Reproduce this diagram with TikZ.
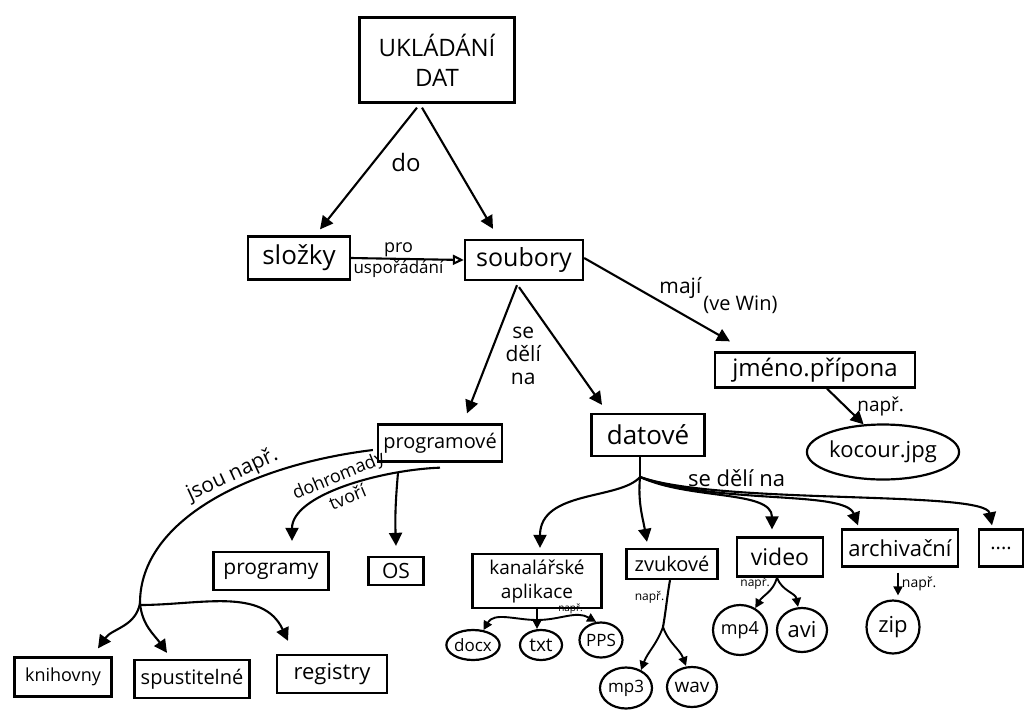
\documentclass[tikz,border=0pt]{standalone}
\usepackage{fontspec}
\setmainfont{Open Sans}
\usetikzlibrary{arrows.meta,shapes.geometric}
\newcommand\fsz[1]{\fontsize{#1}{#1}\selectfont}
\begin{document}
\begin{tikzpicture}[x=1pt,y=1pt,
  box/.style={draw, line width=2.3pt, rectangle, inner sep=0pt, align=center},
  oval/.style={draw, line width=2.2pt, ellipse, inner sep=0pt, align=center},
  arr/.style={line width=2.1pt, -{Triangle[length=13pt,width=13pt]}},
  sarr/.style={line width=1.9pt, -{Triangle[length=9pt,width=9pt]}},
  oarr/.style={line width=2.1pt, -{Triangle[open,length=11pt,width=10pt]}},
  plain/.style={line width=2.1pt},
  lbl/.style={inner sep=1pt}]
\useasboundingbox (0,0) rectangle (1026,-716);

% concept boxes
\node[box, minimum width=155, minimum height=85, font={\fontsize{24}{30}\selectfont}] (ukl) at (437,-60) {UKLÁDÁNÍ\\DAT};
\node[box, minimum width=102, minimum height=43, font=\fsz{26}] (slozky) at (299,-258) {složky};
\node[box, minimum width=118, minimum height=40, font=\fsz{25}] (soubory) at (524,-260) {soubory};
\node[box, minimum width=200, minimum height=35, font=\fsz{24}] (jmeno) at (815,-370) {jméno.přípona};
\node[oval, minimum width=151, minimum height=55, font=\fsz{22}] (kocour) at (883,-452) {kocour.jpg};
\node[box, minimum width=124, minimum height=37, font=\fsz{20}] (prog) at (440,-443) {programové};
\node[box, minimum width=113, minimum height=42, font=\fsz{26}] (dat) at (648,-435) {datové};
\node[box, minimum width=115, minimum height=38, font=\fsz{21}] (programy) at (271,-571) {programy};
\node[box, minimum width=55, minimum height=28, font=\fsz{21}] (os) at (396,-571) {OS};
\node[box, minimum width=97, minimum height=39, font=\fsz{18}] (knih) at (63,-677) {knihovny};
\node[box, minimum width=115, minimum height=38, font=\fsz{20}] (spust) at (192,-679) {spustitelné};
\node[box, minimum width=110, minimum height=38, font=\fsz{22}] (reg) at (332,-674) {registry};
\node[box, minimum width=129, minimum height=54, font={\fontsize{19}{24}\selectfont}] (kanc) at (537,-581) {kanalářské\\aplikace};
\node[box, minimum width=91, minimum height=30, font=\fsz{20}] (zvuk) at (672,-564) {zvukové};
\node[box, minimum width=86, minimum height=39, font=\fsz{23}] (video) at (780,-557) {video};
\node[box, minimum width=116, minimum height=37, font=\fsz{22}] (arch) at (900,-548) {archivační};
\node[box, minimum width=44, minimum height=37, font=\fsz{20}] (dots) at (1001,-548) {....};

% examples in ovals
\node[oval, minimum width=53, minimum height=30, font=\fsz{17}] (docx) at (473,-645) {docx};
\node[oval, minimum width=42, minimum height=30, font=\fsz{19}] (txt) at (541,-645) {txt};
\node[oval, minimum width=43, minimum height=35, font=\fsz{17}] (pps) at (601,-640) {PPS};
\node[oval, minimum width=52, minimum height=41, font=\fsz{17}] (mp3) at (626,-688) {mp3};
\node[oval, minimum width=50, minimum height=40, font=\fsz{19}] (wav) at (692,-687) {wav};
\node[oval, minimum width=54, minimum height=50, font=\fsz{18}] (mp4) at (740,-630) {mp4};
\node[oval, minimum width=50, minimum height=44, font=\fsz{22}] (avi) at (802,-630) {avi};
\node[oval, minimum width=53, minimum height=53, font=\fsz{22}] (zip) at (893,-627) {zip};

% top level
\draw[arr] ([xshift=-20pt,yshift=-4pt]ukl.south) -- ([xshift=21pt,yshift=6pt]slozky.north)
  node[lbl, pos=.45, right=16pt, font=\fsz{24}] {do};
\draw[arr] ([xshift=-15pt,yshift=-4pt]ukl.south) -- ([xshift=-31pt,yshift=10pt]soubory.north);
\draw[oarr] (slozky.east) -- (soubory.west)
  node[lbl, pos=.42, above, font=\fsz{18}] {pro}
  node[lbl, pos=.42, below, font=\fsz{17}] {uspořádání};
\draw[arr] ([yshift=2pt]soubory.east) -- ([xshift=-85pt,yshift=10pt]jmeno.north)
  node[lbl, pos=.66, above=12pt, font=\fsz{21}] {mají}
  node[lbl, pos=.66, xshift=60pt, yshift=8pt, font=\fsz{20}] {(ve Win)};
\draw[arr] ([xshift=12pt]jmeno.south) -- (kocour.125)
  node[lbl, pos=.5, right=10pt, font=\fsz{19}] {např.};

% files split
\draw[arr] ([xshift=-7pt,yshift=-4pt]soubory.south) -- ([xshift=27pt,yshift=10pt]prog.north)
  node[lbl, pos=.55, right=14pt, align=center, font={\fontsize{21}{23}\selectfont}] {se\\dělí\\na};
\draw[arr] ([xshift=-5pt,yshift=-6pt]soubory.south) -- ([xshift=-46pt,yshift=8pt]dat.north);

% program files
\coordinate (jb) at (140,-603);
\draw[plain] ([xshift=-4pt,yshift=-7pt]prog.west) .. controls (250,-465) and (140,-520) .. (jb)
  node[lbl, pos=.4, sloped, above, font=\fsz{21}] {jsou např.};
\draw[arr] (jb) to[out=-100, in=55] ([xshift=35pt,yshift=8pt]knih.north);
\draw[arr] (jb) to[out=-85, in=125] ([xshift=-25pt,yshift=6pt]spust.north);
\draw[arr] ([yshift=-2pt]jb) to[out=0, in=115] ([xshift=-44pt,yshift=13pt]reg.north);
\draw[arr] ([yshift=-5pt]prog.south) .. controls (380,-470) and (292,-495) ..
  ([xshift=21pt,yshift=10pt]programy.north)
  node[lbl, pos=.5, sloped, above=1pt, font=\fsz{18}] {dohromady}
  node[lbl, pos=.5, sloped, below=1pt, font=\fsz{18}] {tvoří};
\draw[arr] ([xshift=-42pt,yshift=-10pt]prog.south) to[out=-95, in=92] ([yshift=10pt]os.north);

% data files
\coordinate (db) at (640,-477);
\draw[plain] ([xshift=-8pt]dat.south) -- (db);
\draw[arr] (db) .. controls (620,-500) and (540,-490) .. ([xshift=3pt,yshift=5pt]kanc.north);
\draw[arr] (db) to[out=-95, in=100] ([xshift=-25pt,yshift=6pt]zvuk.north);
\draw[arr] (db) .. controls (690,-500) and (772,-490) .. ([xshift=-8pt,yshift=7pt]video.north);
\draw[arr] (db) .. controls (720,-505) and (845,-490) .. ([xshift=-42pt,yshift=3pt]arch.north);
\draw[arr] (db) .. controls (720,-505) and (985,-490) .. ([xshift=-9pt,yshift=3pt]dots.north)
  node[lbl, pos=.27, above=3pt, font=\fsz{22}] {se dělí na};

% office documents
\coordinate (kb) at (537,-620);
\draw[plain] (kanc.south) -- (kb);
\draw[sarr] (kb) to[out=180, in=60] (docx.55);
\draw[sarr] (kb) -- ([xshift=-4pt]txt.north);
\draw[sarr] (kb) to[out=0, in=150]
  node[lbl, pos=.55, above=0pt, font=\fsz{10}] {např.}
  (pps.105);

% audio
\coordinate (zb) at (663,-627);
\draw[plain] ([xshift=-2pt]zvuk.south) to[out=-100, in=80]
  node[lbl, pos=.35, left=1pt, font=\fsz{12}] {např.}
  (zb);
\draw[sarr] (zb) to[out=-110, in=70] (mp3.50);
\draw[sarr] (zb) to[out=-70, in=110] ([xshift=-6pt]wav.north);

% video
\draw[sarr] ([xshift=-3pt]video.south) to[out=-105, in=60]
  node[lbl, pos=.15, left=3pt, font=\fsz{12}] {např.}
  (mp4.55);
\draw[sarr] ([xshift=-3pt]video.south) to[out=-70, in=100] ([xshift=-4pt]avi.north);

% archives
\draw[sarr] ([xshift=-2pt,yshift=-5pt]arch.south) -- ([xshift=5pt,yshift=4pt]zip.north)
  node[lbl, pos=.5, right=2pt, font=\fsz{14}] {např.};
\end{tikzpicture}
\end{document}
